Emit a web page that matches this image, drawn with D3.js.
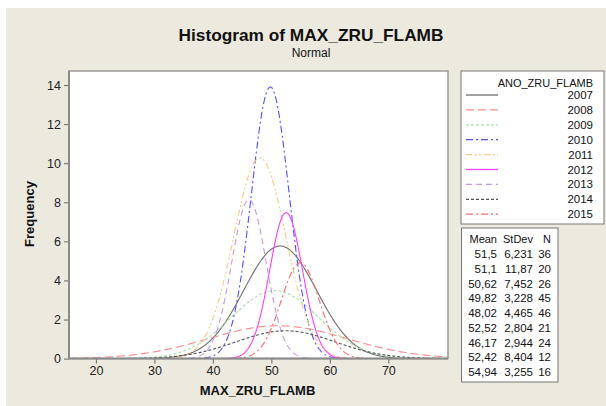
<!DOCTYPE html>
<html><head><meta charset="utf-8">
<script src="https://cdn.jsdelivr.net/npm/d3@7"></script>
<style>body{margin:0;background:#fff}svg{display:block}text{font-family:"Liberation Sans",Arial,sans-serif}</style>
</head><body><svg id="c" width="606" height="406"></svg>
<script>
const years = ["2007","2008","2009","2010","2011","2012","2013","2014","2015"];
const means = [51.5, 51.1, 50.62, 49.82, 48.02, 52.52, 46.17, 52.42, 54.94];
const stdevs = [6.231, 11.87, 7.452, 3.228, 4.465, 2.804, 2.944, 8.404, 3.255];
const ns = [36, 20, 26, 45, 46, 21, 24, 12, 16];
const meanLabels = ["51,5","51,1","50,62","49,82","48,02","52,52","46,17","52,42","54,94"];
const stdevLabels = ["6,231","11,87","7,452","3,228","4,465","2,804","2,944","8,404","3,255"];
const binWidth = 2.5;
const xTicks = [20,30,40,50,60,70];
const yTicks = [0,2,4,6,8,10,12,14];
const colors = ["#707070","#ff8a8a","#a8e0a8","#5050ff","#ffc880","#ff40ff","#c898e8","#555555","#ff6a6a"];
const dashes = [null,"8,4","3,2","7,3,2,3","6,3,2,2,2,3",null,"6,4","3,2","7,3,2,3"];

const svg = d3.select("#c");
svg.append("rect").attr("x",6).attr("y",8).attr("width",600).attr("height",398).attr("fill","#ece9df");

const L=69,T=71,R=448,B=358.6;
const x = d3.scaleLinear().domain([15.4,80.2]).range([L,R]);
const y = d3.scaleLinear().domain([0,14.72]).range([B,T]);

svg.append("rect").attr("x",L).attr("y",T).attr("width",R-L).attr("height",B-T).attr("fill","#fff").attr("stroke","#9a9a9a").attr("stroke-width",1.5);

svg.append("clipPath").attr("id","pc").append("rect").attr("x",L).attr("y",T).attr("width",R-L).attr("height",B-T);

const xs = d3.range(15.4, 80.25, 0.1);
const line = d3.line().x(d=>x(d[0])).y(d=>y(d[1]));
const g = svg.append("g").attr("clip-path","url(#pc)");
years.forEach((yr,i)=>{
  const pts = xs.map(v=>[v, ns[i]*binWidth/(stdevs[i]*Math.sqrt(2*Math.PI))*Math.exp(-0.5*((v-means[i])/stdevs[i])**2)]);
  g.append("path").attr("d",line(pts)).attr("fill","none").attr("stroke",colors[i]).attr("stroke-width",1.1)
   .attr("stroke-dasharray",dashes[i]);
});

const xa = svg.append("g").attr("transform",`translate(0,${B})`).call(d3.axisBottom(x).tickValues(xTicks).tickSize(5).tickPadding(3));
const ya = svg.append("g").attr("transform",`translate(${L},0)`).call(d3.axisLeft(y).tickValues(yTicks).tickSize(5).tickPadding(3));
[xa,ya].forEach(a=>{a.select(".domain").remove();a.selectAll("line").attr("stroke","#666");a.selectAll("text").attr("font-size",12.5).attr("fill","#222").style("font-family","'Liberation Sans',Arial,sans-serif");});
svg.append("line").attr("x1",L).attr("x2",L).attr("y1",T).attr("y2",B).attr("stroke","#8a8a8a").attr("stroke-width",2);
svg.append("line").attr("x1",L).attr("x2",R).attr("y1",B).attr("y2",B).attr("stroke","#8a8a8a").attr("stroke-width",2);

svg.append("text").attr("x",311).attr("y",41).attr("text-anchor","middle").attr("font-size",17.3).attr("font-weight","bold").attr("fill","#111").text("Histogram of MAX_ZRU_FLAMB");
svg.append("text").attr("x",311).attr("y",57).attr("text-anchor","middle").attr("font-size",12).attr("fill","#111").text("Normal");
svg.append("text").attr("x",257.5).attr("y",395).attr("text-anchor","middle").attr("font-size",13).attr("font-weight","bold").attr("fill","#111").text("MAX_ZRU_FLAMB");
svg.append("text").attr("transform","translate(34,214) rotate(-90)").attr("text-anchor","middle").attr("font-size",13).attr("font-weight","bold").attr("fill","#111").text("Frequency");

// legend 1
svg.append("rect").attr("x",461).attr("y",71).attr("width",143).attr("height",153).attr("fill","#fff").attr("stroke","#777");
svg.append("text").attr("x",593).attr("y",87).attr("text-anchor","end").attr("font-size",11).attr("fill","#111").text("ANO_ZRU_FLAMB");
years.forEach((yr,i)=>{
  const yy = 95 + i*14.9;
  svg.append("line").attr("x1",466).attr("x2",498).attr("y1",yy).attr("y2",yy).attr("stroke",colors[i]).attr("stroke-width",1.3).attr("stroke-dasharray",dashes[i]);
  svg.append("text").attr("x",593).attr("y",yy+4).attr("text-anchor","end").attr("font-size",11.5).attr("fill","#111").text(yr);
});
// legend 2
svg.append("rect").attr("x",461.5).attr("y",228).attr("width",96.5).attr("height",154).attr("fill","#fff").attr("stroke","#777");
const hdr=[["Mean",497],["StDev",533],["N",551]];
hdr.forEach(h=>svg.append("text").attr("x",h[1]).attr("y",243).attr("text-anchor","end").attr("font-size",11).attr("fill","#111").text(h[0]));
years.forEach((yr,i)=>{
  const yy = 258 + i*14.75;
  svg.append("text").attr("x",497).attr("y",yy).attr("text-anchor","end").attr("font-size",11.5).attr("fill","#111").text(meanLabels[i]);
  svg.append("text").attr("x",533).attr("y",yy).attr("text-anchor","end").attr("font-size",11.5).attr("fill","#111").text(stdevLabels[i]);
  svg.append("text").attr("x",551).attr("y",yy).attr("text-anchor","end").attr("font-size",11.5).attr("fill","#111").text(ns[i]);
});
</script></body></html>
